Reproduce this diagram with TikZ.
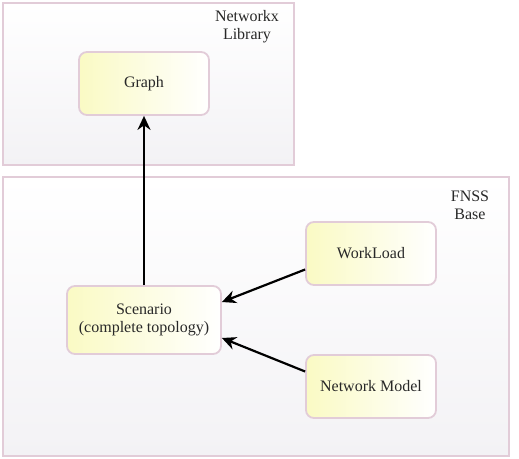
\documentclass[tikz,border=0pt]{standalone}
\usepackage{fontspec}
\setmainfont{Liberation Serif}
\usetikzlibrary{arrows.meta,positioning}
\definecolor{boxpink}{RGB}{226,204,216}
\definecolor{boxyellow}{RGB}{250,250,196}
\definecolor{areagray}{RGB}{243,242,245}
\definecolor{textdark}{RGB}{40,40,40}

\begin{document}
\begin{tikzpicture}[x=1pt,y=-1pt,
  font=\fontsize{16}{18}\selectfont,text=textdark,
  area/.style={draw=boxpink,line width=2pt,top color=white,bottom color=areagray},
  block/.style={draw=boxpink,line width=1.8pt,rounded corners=8pt,left color=boxyellow,right color=white,
    minimum width=130pt,minimum height=63pt,align=center,inner sep=0pt},
  link/.style={-{Stealth[length=14pt,width=13pt]},line width=2.2pt}]
  \useasboundingbox (0,0) rectangle (519,458);
  % containers
  \path[area] (3,3) rectangle (294,165);
  \path[area] (3,177) rectangle (509,456);
  \node[align=center] (nxlabel) at (247,27) {Networkx\\Library};
  \node[align=center] (fnsslabel) at (470,205) {FNSS\\Base};
  % blocks
  \node[block] (graph) at (144,83.5) {Graph};
  \node[block,minimum width=154pt,minimum height=68pt] (scenario) at (144,320) {Scenario\\(complete topology)};
  \node[block] (workload) at (371,253.5) {WorkLoad};
  \node[block] (netmodel) at (371,386.5) {Network Model};
  % links
  \draw[link] (scenario.north) -- (graph.south);
  \draw[link] ([yshift=-16pt]workload.west) -- ([yshift=18pt]scenario.east);
  \draw[link] ([yshift=15pt]netmodel.west) -- ([yshift=-18pt]scenario.east);
\end{tikzpicture}
\end{document}
